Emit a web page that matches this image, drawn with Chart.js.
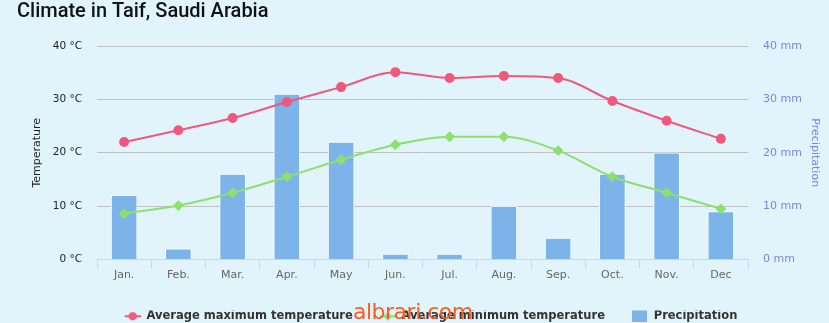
<!DOCTYPE html>
<html>
<head>
<meta charset="utf-8">
<script src="https://cdn.jsdelivr.net/npm/chart.js@4"></script>
<style>
    body { margin: 0; background: #e1f4fc; }
    #wrap { position: relative; width: 829px; height: 323px; }
    #mark {
        position: absolute; left: 353px; top: 299px;
        font: 22px "DejaVu Sans", sans-serif; color: #ff5a22;
        pointer-events: none; letter-spacing: -0.5px;
    }
</style>
</head>
<body>
<div id="wrap">
    <canvas id="climate" width="829" height="323"></canvas>
    <div id="mark">albrari.com</div>
</div>
<script>
const months = ["Jan.", "Feb.", "Mar.", "Apr.", "May", "Jun.", "Jul.", "Aug.", "Sep.", "Oct.", "Nov.", "Dec"]
const maxTemp = [22, 24.2, 26.5, 29.5, 32.3, 35.1, 34, 34.4, 34, 29.7, 26, 22.6]
const minTemp = [8.6, 10.1, 12.5, 15.5, 18.7, 21.5, 23, 23, 20.4, 15.5, 12.5, 9.5]
const rain = [12, 2, 16, 31, 22, 1, 1, 10, 4, 16, 20, 9]
const axisTicks = [0, 10, 20, 30, 40]

const RED = "#f0587c"
const GREEN = "#8ce06c"
const BLUE = "#7cb4ea"
const ICON_W = 43

// legend symbols: blank space on the left, marker drawn at the right end
function lineIcon(color, shape) {
    const c = document.createElement("canvas")
    c.width = ICON_W; c.height = 12
    const g = c.getContext("2d")
    const x0 = ICON_W - 16
    g.strokeStyle = color; g.fillStyle = color; g.lineWidth = 2
    g.beginPath(); g.moveTo(x0, 6); g.lineTo(ICON_W, 6); g.stroke()
    g.beginPath()
    if (shape === "circle") {
        g.arc(x0 + 8, 6, 4, 0, Math.PI * 2)
    } else {
        g.moveTo(x0 + 8, 1.5); g.lineTo(x0 + 12.5, 6); g.lineTo(x0 + 8, 10.5); g.lineTo(x0 + 3.5, 6); g.closePath()
    }
    g.fill()
    return c
}
function boxIcon(color) {
    const c = document.createElement("canvas")
    c.width = ICON_W; c.height = 12
    const g = c.getContext("2d")
    g.fillStyle = color; g.fillRect(ICON_W - 16, 0, 15, 12)
    return c
}
const icons = [lineIcon(RED, "circle"), lineIcon(GREEN, "diamond"), boxIcon(BLUE)]

new Chart("climate", {
    data: {
        labels: months,
        datasets: [{
            type: "line",
            label: "Average maximum temperature",
            data: maxTemp,
            yAxisID: "temp",
            borderColor: RED,
            backgroundColor: RED,
            borderWidth: 2,
            pointRadius: 4,
            pointStyle: "circle",
            cubicInterpolationMode: "monotone",
            order: 0
        }, {
            type: "line",
            label: "Average minimum temperature",
            data: minTemp,
            yAxisID: "temp",
            borderColor: GREEN,
            backgroundColor: GREEN,
            borderWidth: 2,
            pointRadius: 4,
            pointStyle: "rectRot",
            cubicInterpolationMode: "monotone",
            order: 1
        }, {
            type: "bar",
            label: "Precipitation",
            data: rain,
            yAxisID: "rain",
            backgroundColor: BLUE,
            borderColor: "#ffffff",
            borderWidth: 1,
            barThickness: 26,
            order: 2
        }]
    },
    options: {
        responsive: false,
        animation: false,
        layout: { padding: { left: 17, right: 11, top: 0, bottom: -9 } },
        plugins: {
            tooltip: { enabled: false },
            title: {
                display: true,
                text: "Climate in Taif, Saudi Arabia",
                align: "start",
                color: "#111",
                font: { family: "Roboto", size: 20, weight: "500" },
                padding: { top: 0, bottom: 22 }
            },
            legend: {
                position: "bottom",
                labels: {
                    usePointStyle: true,
                    pointStyleWidth: ICON_W,
                    color: "#333",
                    font: { family: "DejaVu Sans", size: 11.5, weight: "bold" },
                    padding: 0,
                    generateLabels: chart => chart.data.datasets.map((ds, i) => ({
                        text: ds.label,
                        pointStyle: icons[i],
                        fillStyle: ds.backgroundColor,
                        strokeStyle: ds.backgroundColor,
                        lineWidth: 0,
                        hidden: false,
                        datasetIndex: i,
                        fontColor: "#333"
                    }))
                }
            }
        },
        scales: {
            x: {
                offset: true,
                afterFit: s => { s.height = 51 },
                grid: { offset: true, drawOnChartArea: false, tickLength: 9, color: "#ccd6eb" },
                border: { color: "#ccd6eb" },
                ticks: { color: "#666", font: { family: "DejaVu Sans", size: 11 }, padding: 0 }
            },
            temp: {
                position: "left",
                min: 0, max: 40,
                afterBuildTicks: axis => { axis.ticks = axisTicks.map(v => ({ value: v })) },
                afterFit: s => { s.width = 80 },
                grid: { color: "#c0c0c0", drawTicks: false },
                border: { display: false },
                ticks: {
                    color: "#222",
                    padding: 15,
                    font: { family: "DejaVu Sans", size: 10.5 },
                    callback: v => v + " °C"
                },
                title: {
                    display: true, text: "Temperature", color: "#222",
                    font: { family: "DejaVu Sans", size: 11 }, padding: { top: 14, bottom: 9 }
                }
            },
            rain: {
                position: "right",
                min: 0, max: 40,
                afterBuildTicks: axis => { axis.ticks = axisTicks.map(v => ({ value: v })) },
                afterFit: s => { s.width = 70 },
                grid: { drawOnChartArea: false, drawTicks: false },
                border: { display: false },
                ticks: {
                    color: "#8080e8",
                    padding: 15,
                    font: { family: "DejaVu Sans", size: 11 },
                    callback: v => v + " mm"
                },
                title: {
                    display: true, text: "Precipitation", color: "#8080e8",
                    font: { family: "DejaVu Sans", size: 11 }, padding: { top: -3.5, bottom: 3 }
                }
            }
        }
    }
})
</script>
</body>
</html>
